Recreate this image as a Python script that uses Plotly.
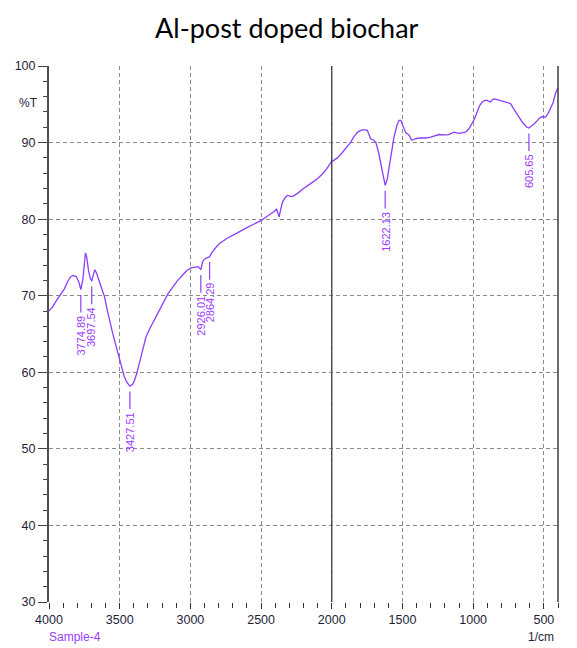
import plotly.graph_objects as go

# FTIR spectrum of the Al-post doped biochar (Sample-4)
wavenumber = [
    4000, 3975, 3950, 3914, 3891, 3870, 3850, 3832, 3808, 3789, 3774.89, 3760,
    3750, 3742, 3733, 3720, 3708, 3697.54, 3688, 3676, 3665, 3650, 3631, 3608,
    3590, 3573, 3555, 3537, 3520, 3502, 3485, 3467, 3450, 3440, 3427.51, 3410,
    3396, 3380, 3361, 3340, 3314, 3290, 3267, 3230, 3196, 3160, 3126, 3090,
    3055, 3025, 2996, 2965, 2945, 2926.01, 2914, 2900, 2880, 2864.29, 2850,
    2835, 2815, 2796, 2740, 2678, 2600, 2501, 2450, 2408, 2390, 2380, 2372,
    2362, 2349, 2330, 2314, 2295, 2278, 2240, 2200, 2137, 2100, 2066, 2035,
    2007, 1960, 1925, 1890, 1866, 1842, 1815, 1795, 1775, 1749, 1735, 1725,
    1705, 1689, 1670, 1654, 1640, 1622.13, 1608, 1595, 1575, 1560, 1540, 1525,
    1512, 1500, 1477, 1454, 1435, 1420, 1407, 1380, 1336, 1300, 1270, 1242,
    1200, 1172, 1136, 1101, 1070, 1054, 1030, 1007, 990, 972, 955, 936, 918,
    901, 885, 877, 865, 854, 830, 807, 785, 760, 736, 720, 701, 680, 654, 635,
    620, 605.65, 590, 571, 545, 524, 505, 489, 470, 453, 435, 418, 400,
]
transmittance = [
    68.0, 68.5, 69.3, 70.3, 70.9, 71.8, 72.4, 72.65, 72.5, 71.8, 70.8, 72.2,
    74.0, 75.6, 75.0, 73.2, 72.3, 71.9, 72.6, 73.4, 73.0, 72.1, 71.1, 69.9,
    68.3, 66.8, 65.5, 64.2, 63.0, 61.6, 60.4, 59.4, 58.7, 58.4, 58.2, 58.4,
    58.9, 59.8, 61.1, 62.8, 64.6, 65.6, 66.4, 67.8, 69.0, 70.2, 71.1, 72.0,
    72.7, 73.3, 73.65, 73.8, 73.8, 73.4, 74.4, 74.8, 75.0, 75.1, 75.6,
    76.0, 76.4, 76.8, 77.5, 78.1, 78.9, 79.8, 80.4, 81.0, 81.3, 80.6, 80.3,
    81.2, 82.2, 82.8, 83.1, 83.0, 82.95, 83.4, 84.0, 84.8, 85.3, 85.9, 86.6,
    87.4, 88.0, 88.7, 89.5, 90.05, 90.8, 91.4, 91.6, 91.7, 91.6, 91.0, 90.5,
    90.3, 90.05, 88.8, 87.2, 85.8, 84.4, 85.2, 86.6, 89.0, 90.7, 92.2, 92.9,
    92.9, 92.3, 91.3, 91.0, 90.3, 90.4, 90.5, 90.6, 90.6, 90.7, 90.9, 91.05,
    91.0, 91.05, 91.35, 91.2, 91.3, 91.35, 91.8, 92.45, 93.1, 94.0, 94.8, 95.3, 95.5,
    95.5, 95.3, 95.3, 95.6, 95.7, 95.6, 95.5, 95.4, 95.3, 95.1, 94.6, 94.0, 93.4, 92.7, 92.3,
    92.0, 91.9, 92.1, 92.4, 92.9, 93.3, 93.4, 93.3, 93.8, 94.4, 95.2, 96.4, 97.2,
]

# Labelled absorption bands
peak_wavenumbers = [3774.89, 3697.54, 3427.51, 2926.01, 2864.29, 1622.13, 605.65]
peak_labels = ["3774.89", "3697.54", "3427.51", "2926.01", "2864.29", "1622.13", "605.65"]

x_ticks = [4000, 3500, 3000, 2500, 2000, 1500, 1000, 500]
y_ticks = [30, 40, 50, 60, 70, 80, 90, 100]

LINE_COLOR = "#8a3ffc"
LABEL_COLOR = "#9b3cff"
TEXT_COLOR = "#1e1e38"
GRID_COLOR = "#8a8a8a"

fig = go.Figure()
fig.add_trace(go.Scatter(
    x=wavenumber, y=transmittance, mode="lines",
    line=dict(color=LINE_COLOR, width=1.3),
    hoverinfo="skip", showlegend=False,
))

shapes = []
annotations = []

# peak markers: short vertical bar under each band and its wavenumber beneath
for wn, lab in zip(peak_wavenumbers, peak_labels):
    t = transmittance[wavenumber.index(wn)]
    shapes.append(dict(type="line", xref="x", yref="y",
                       x0=wn, x1=wn, y0=t - 0.7, y1=t - 3.0,
                       line=dict(color=LINE_COLOR, width=1.2)))
    annotations.append(dict(x=wn, y=t - 3.15, xref="x", yref="y",
                            text=lab, textangle=-90, showarrow=False,
                            xanchor="center", yanchor="top",
                            font=dict(family="Liberation Sans, Arial", size=11,
                                      color=LABEL_COLOR)))

# solid marker at 2000 1/cm and right frame edge
shapes.append(dict(type="line", xref="x", yref="paper", x0=2000, x1=2000, y0=0, y1=1,
                   line=dict(color="#3c3c3c", width=1.3)))
shapes.append(dict(type="line", xref="paper", yref="paper", x0=1, x1=1, y0=0, y1=1,
                   line=dict(color="#3c3c3c", width=1.5)))

annotations += [
    dict(text="%T", xref="paper", yref="paper", x=-0.041, y=0.931,
         xanchor="center", yanchor="middle", showarrow=False,
         font=dict(family="Liberation Sans, Arial", size=12, color=TEXT_COLOR)),
    dict(text="Sample-4", xref="paper", yref="paper", x=-0.004, y=-0.066,
         xanchor="left", yanchor="middle", showarrow=False,
         font=dict(family="Liberation Sans, Arial", size=12, color=LABEL_COLOR)),
    dict(text="1/cm", xref="paper", yref="paper", x=0.996, y=-0.066,
         xanchor="right", yanchor="middle", showarrow=False,
         font=dict(family="Liberation Sans, Arial", size=12, color=TEXT_COLOR)),
]

fig.update_layout(
    width=577, height=648,
    margin=dict(l=49, r=19, t=66, b=46),
    paper_bgcolor="white", plot_bgcolor="white",
    title=dict(text="Al-post doped biochar", x=0.497, xanchor="center",
               y=1 - 29 / 648, yanchor="middle",
               font=dict(family="Lato, Carlito, sans-serif", size=27, color="black")),
    shapes=shapes, annotations=annotations,
    xaxis=dict(
        range=[4000, 400], tickmode="array", tickvals=x_ticks,
        ticks="outside", ticklen=6, tickcolor="#333", tickwidth=1,
        minor=dict(dtick=100, tick0=0, ticks="outside", ticklen=5,
                   tickcolor="#333", showgrid=False),
        showgrid=True, gridcolor=GRID_COLOR, griddash="4px,3px", gridwidth=1,
        zeroline=False, showline=False,
        tickfont=dict(family="Liberation Sans, Arial", size=12.5, color=TEXT_COLOR),
    ),
    yaxis=dict(
        range=[30, 100], tickmode="array", tickvals=y_ticks,
        ticks="outside", ticklen=9, tickcolor="#444", tickwidth=1.2,
        minor=dict(dtick=2, tick0=0, ticks="outside", ticklen=4,
                   tickcolor="#444", showgrid=False),
        showgrid=True, gridcolor=GRID_COLOR, griddash="4px,3px", gridwidth=1,
        zeroline=False, showline=True, linecolor="#505050", linewidth=2,
        tickfont=dict(family="Liberation Sans, Arial", size=12.5, color=TEXT_COLOR),
    ),
)

fig.write_html("out.html")
